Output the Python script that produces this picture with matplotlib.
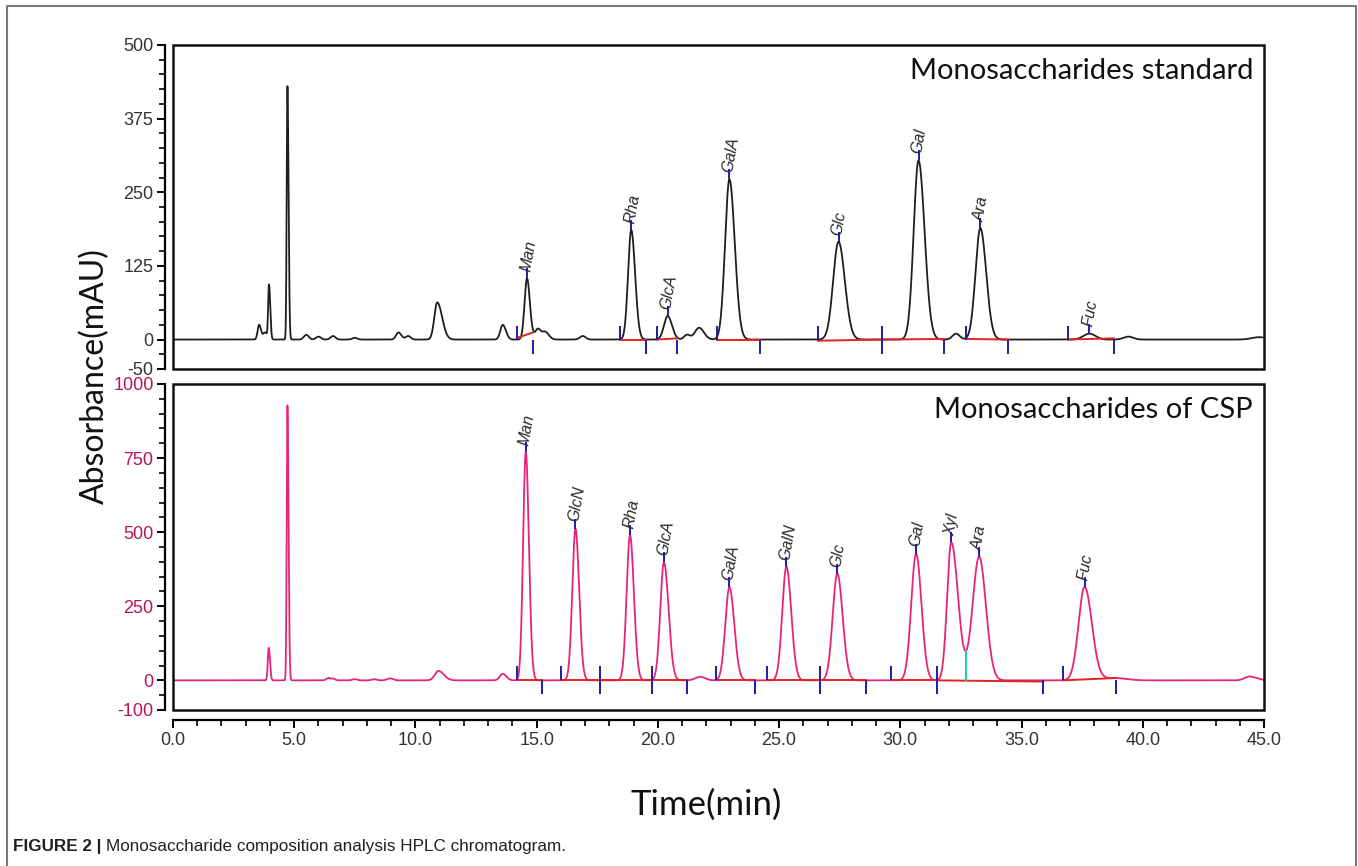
import matplotlib

matplotlib.use("Agg")

import numpy as np
import matplotlib.pyplot as plt
from matplotlib.lines import Line2D
from matplotlib.patches import Rectangle
from matplotlib.ticker import MultipleLocator, FormatStrFormatter

W, H = 1358, 866

# ---- peaks: time (min), height (mAU), left/right width (min)
std_rt = [3.55, 3.8, 3.96, 4.72, 5.5, 6.0, 6.6, 7.5, 9.3, 9.7, 10.9, 13.6, 14.6, 15.05, 15.35,
          16.9, 18.9, 20.4, 21.2, 21.7, 22.95, 27.45, 30.75, 32.3, 33.3, 37.8, 39.4, 44.8]
std_h = [25, 12, 92, 430, 8, 5, 6, 3, 12, 6, 63, 25, 104, 18, 13,
         6, 186, 40, 8, 20, 272, 166, 304, 10, 189, 10, 5, 4]
std_wl = [0.06, 0.08, 0.035, 0.03, 0.1, 0.1, 0.1, 0.1, 0.1, 0.1, 0.12, 0.1, 0.1, 0.12, 0.12,
          0.12, 0.13, 0.15, 0.12, 0.18, 0.18, 0.22, 0.2, 0.15, 0.2, 0.25, 0.2, 0.3]
std_wr = [0.08, 0.08, 0.05, 0.045, 0.1, 0.1, 0.1, 0.1, 0.12, 0.1, 0.2, 0.13, 0.12, 0.12, 0.15,
          0.12, 0.16, 0.18, 0.12, 0.2, 0.22, 0.26, 0.25, 0.15, 0.24, 0.25, 0.2, 0.3]

csp_rt = [3.95, 4.72, 6.4, 6.6, 7.5, 8.3, 8.95, 10.95, 13.6, 14.55, 16.6, 18.85, 20.25, 21.75,
          22.95, 25.3, 27.4, 30.65, 32.1, 33.25, 37.6, 38.8, 44.4]
csp_h = [110, 928, 8, 6, 4, 4, 7, 32, 22, 770, 512, 490, 398, 12,
         315, 383, 360, 428, 466, 417, 315, 8, 13]
csp_wl = [0.04, 0.03, 0.08, 0.08, 0.1, 0.1, 0.12, 0.15, 0.12, 0.11, 0.13, 0.14, 0.15, 0.2,
          0.17, 0.17, 0.19, 0.2, 0.17, 0.27, 0.25, 0.5, 0.2]
csp_wr = [0.05, 0.045, 0.08, 0.08, 0.1, 0.1, 0.12, 0.22, 0.15, 0.13, 0.15, 0.16, 0.19, 0.2,
          0.2, 0.2, 0.22, 0.22, 0.28, 0.28, 0.3, 0.5, 0.3]

# ---- named peaks
std_names = ["Man", "Rha", "GlcA", "GalA", "Glc", "Gal", "Ara", "Fuc"]
std_name_rt = [14.6, 18.9, 20.4, 22.95, 27.45, 30.75, 33.3, 37.8]
std_name_h = [104, 186, 40, 272, 166, 304, 189, 10]

csp_names = ["Man", "GlcN", "Rha", "GlcA", "GalA", "GalN", "Glc", "Gal", "Xyl", "Ara", "Fuc"]
csp_name_rt = [14.55, 16.6, 18.85, 20.25, 22.95, 25.3, 27.4, 30.65, 32.1, 33.25, 37.6]
csp_name_h = [770, 512, 490, 398, 315, 383, 360, 428, 466, 417, 315]

# ---- integration marks (1 = up, -1 = down, 0 = both)
std_mark_t = [14.2, 14.85, 18.45, 19.5, 19.97, 20.8, 22.45, 24.2, 26.6, 29.25, 31.8, 32.7, 34.45, 36.9, 38.8]
std_mark_d = [1, -1, 1, -1, 1, -1, 1, -1, 1, 0, -1, 1, -1, 1, -1]
std_base = [(14.2, 14.85, 3, 12), (18.45, 19.5, 0, 0), (19.97, 20.8, 0, 2), (22.45, 24.2, 0, 0),
            (26.6, 29.25, -2, 0), (29.25, 31.8, 0, 1), (32.7, 34.45, 1, 0), (36.9, 38.8, 0, 2)]

csp_mark_t = [14.2, 15.2, 16.0, 17.6, 19.74, 21.2, 22.4, 24.0, 24.5, 26.7, 28.6, 29.6, 31.5, 35.9, 36.7, 38.9]
csp_mark_d = [1, -1, 1, 0, 0, -1, 1, -1, 1, 0, -1, 1, 0, -1, 1, -1]
csp_base = [(14.2, 15.2, 0, 0), (16.0, 17.6, 0, 0), (17.6, 19.74, 0, 0), (19.74, 21.2, 0, 0),
            (22.4, 24.0, 0, 0), (24.5, 26.7, 0, 0), (26.7, 28.6, 0, 0), (29.6, 31.5, 0, 0),
            (31.5, 35.9, 0, -4), (36.7, 38.9, 0, 8)]
csp_drop_t, csp_drop_top = 32.7, 100

BLACK = "#1e1e1e"
PINK = "#e8247a"
PINK_TXT = "#b8145a"
BLUE = "#1c1ca8"
RED = "#e02424"

plt.rcParams["font.family"] = ["Liberation Sans", "DejaVu Sans"]
plt.rcParams["axes.unicode_minus"] = False


def trace(t, rts, hs, wls, wrs):
    y = np.zeros_like(t)
    for rt, h, wl, wr in zip(rts, hs, wls, wrs):
        w = np.where(t < rt, wl, wr)
        y += h * np.exp(-0.5 * ((t - rt) / w) ** 2)
    return y


def setup_axis(ax, ylim, ticks, minor, tcolor):
    ax.set_xlim(0, 45)
    ax.set_ylim(*ylim)
    for s in ["top", "right", "bottom"]:
        ax.spines[s].set_visible(False)
    ax.spines["left"].set_position(("outward", 6))
    ax.spines["left"].set_linewidth(1.6)
    ax.add_patch(Rectangle((0, 0), 1, 1, transform=ax.transAxes, fill=False,
                           lw=1.8, ec="#111111", clip_on=False, zorder=5))
    ax.set_yticks(ticks)
    ax.yaxis.set_minor_locator(MultipleLocator(minor))
    ax.tick_params(axis="y", which="major", direction="out", length=6, width=1.4,
                   labelsize=13, labelcolor=tcolor, pad=2)
    ax.tick_params(axis="y", which="minor", direction="out", length=4, width=1.2)
    ax.tick_params(axis="x", which="both", bottom=False, labelbottom=False)


def draw_marks(ax, ts, ds, base, tick_len):
    for t, d in zip(ts, ds):
        if d == 1:
            ax.plot(t, 0, marker=2, ms=tick_len, mew=1.4, color=BLUE, zorder=4)
        elif d == -1:
            ax.plot(t, 0, marker=3, ms=tick_len, mew=1.4, color=BLUE, zorder=4)
        else:
            ax.plot(t, 0, marker="|", ms=tick_len * 2, mew=1.4, color=BLUE, zorder=4)
    for t0, t1, y0, y1 in base:
        ax.plot([t0, t1], [y0, y1], color=RED, lw=1.4, zorder=3)


def draw_names(ax, names, rts, hs):
    for name, rt, h in zip(names, rts, hs):
        ax.plot(rt, h, marker=2, ms=7, mew=1.4, color=BLUE, zorder=4)
        ax.annotate(name, xy=(rt, h), xytext=(-1, 5), textcoords="offset points",
                    rotation=80, rotation_mode="anchor", ha="left", va="center",
                    fontsize=11.5, style="italic", color="#2a2a2a")


t = np.linspace(0, 45, 9001)

fig = plt.figure(figsize=(W / 100, H / 100), dpi=100)
ax1 = fig.add_axes([173 / W, 1 - 369 / H, 1091 / W, 324 / H])
ax2 = fig.add_axes([173 / W, 1 - 710 / H, 1091 / W, 326 / H])

# top: standard
ax1.plot(t, trace(t, std_rt, std_h, std_wl, std_wr), color=BLACK, lw=1.3, zorder=2)
setup_axis(ax1, (-50, 500), [-50, 0, 125, 250, 375, 500], 25, "#333333")
draw_marks(ax1, std_mark_t, std_mark_d, std_base, 10)
draw_names(ax1, std_names, std_name_rt, std_name_h)
ax1.text(0.99, 0.92, "Monosaccharides standard", transform=ax1.transAxes,
         ha="right", va="center", fontsize=21, family="Lato", color="#111111")

# bottom: CSP
ax2.plot(t, trace(t, csp_rt, csp_h, csp_wl, csp_wr), color=PINK, lw=1.3, zorder=2)
setup_axis(ax2, (-100, 1000), [-100, 0, 250, 500, 750, 1000], 50, PINK_TXT)
draw_marks(ax2, csp_mark_t, csp_mark_d, csp_base, 10)
ax2.plot([csp_drop_t, csp_drop_t], [0, csp_drop_top], color="#22c4c4", lw=1.4, zorder=3)
draw_names(ax2, csp_names, csp_name_rt, csp_name_h)
ax2.text(0.99, 0.92, "Monosaccharides of CSP", transform=ax2.transAxes,
         ha="right", va="center", fontsize=21, family="Lato", color="#111111")

ax2.spines["bottom"].set_visible(True)
ax2.spines["bottom"].set_position(("outward", 7))
ax2.spines["bottom"].set_linewidth(1.6)
ax2.set_xticks(np.arange(0, 46, 5))
ax2.xaxis.set_major_formatter(FormatStrFormatter("%.1f"))
ax2.xaxis.set_minor_locator(MultipleLocator(1))
ax2.tick_params(axis="x", which="major", bottom=True, labelbottom=True, direction="out",
                length=6, width=1.4, labelsize=13, labelcolor="#333333", pad=3)
ax2.tick_params(axis="x", which="minor", bottom=True, direction="out", length=4, width=1.2)

# axis titles
fig.text(95 / W, 1 - 376 / H, "Absorbance(mAU)", rotation=90, ha="center", va="center",
         fontsize=23, family="Lato", color="#111111")
fig.text(706 / W, 1 - 805 / H, "Time(min)", ha="center", va="center",
         fontsize=25, family="Lato", color="#111111")

# outer frame (open at the bottom)
fig.add_artist(Line2D([7 / W, 7 / W, 1356 / W, 1356 / W], [0, 1 - 6 / H, 1 - 6 / H, 0],
                      transform=fig.transFigure, color="#7a7a7a", lw=1.5))

# caption
cap_y = 1 - 846 / H
bold = fig.text(13 / W, cap_y, "FIGURE 2 |", ha="left", va="center", fontsize=12.3,
                fontweight="bold", color="#231f20")
renderer = fig.canvas.get_renderer()
bb = bold.get_window_extent(renderer)
fig.text((bb.x1 + 5) / W, cap_y, "Monosaccharide composition analysis HPLC chromatogram.",
         ha="left", va="center", fontsize=12.3, color="#231f20")

fig.savefig("out.png", dpi=100)
